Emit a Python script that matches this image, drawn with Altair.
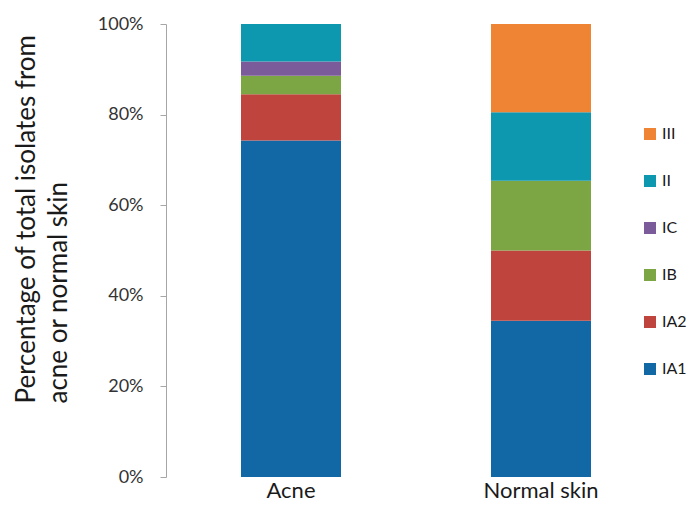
import altair as alt
import pandas as pd

categories = ["Acne", "Normal skin"]
types = ["IA1", "IA2", "IB", "IC", "II", "III"]
acne = [74.3, 10.2, 4.1, 3.1, 8.3, 0.0]
normal = [34.5, 15.5, 15.4, 0.0, 15.1, 19.5]
colors = ["#1268a5", "#c0443e", "#7ca644", "#7c5b9b", "#0e98b0", "#ee8434"]
y_ticks = [0, 0.2, 0.4, 0.6, 0.8, 1.0]

rows = []
for cat, vals in zip(categories, [acne, normal]):
    for i, (t, v) in enumerate(zip(types, vals)):
        rows.append({"group": cat, "type": t, "value": v / 100.0, "ord": i})
df = pd.DataFrame(rows)

FONT = "Lato"

chart = alt.Chart(df).mark_bar().encode(
    x=alt.X("group:N", sort=categories,
            scale=alt.Scale(paddingInner=0.6, paddingOuter=0.3),
            axis=alt.Axis(title=None, labelAngle=0, domain=False, ticks=False,
                          labelFontSize=22, labelPadding=20, labelBaseline="alphabetic",
                          labelColor="#1a1a1a", labelFont=FONT)),
    y=alt.Y("value:Q", stack=True,
            scale=alt.Scale(domain=[0, 1], nice=False),
            axis=alt.Axis(title=["Percentage of total isolates from", "acne or normal skin"],
                          format=".0%", values=y_ticks, grid=False,
                          domainColor="#a6a6a6", tickColor="#a6a6a6", tickSize=6,
                          labelFontSize=18, labelPadding=17, labelColor="#333333",
                          labelFont=FONT,
                          titleFont=FONT, titleFontSize=26, titleFontWeight="normal",
                          titleColor="#1a1a1a", titleAngle=270, titleAlign="left",
                          titleBaseline="top", titleLineHeight=32,
                          titleX=-153, titleY=379)),
    color=alt.Color("type:N",
                    scale=alt.Scale(domain=types[::-1], range=colors[::-1]),
                    legend=alt.Legend(title=None, orient="none", legendX=476, legendY=102,
                                      symbolType="square", symbolSize=144,
                                      symbolStrokeWidth=0, labelFontSize=16,
                                      labelFont=FONT, labelColor="#1a1a1a",
                                      rowPadding=31, padding=0, labelOffset=4)),
    order=alt.Order("ord:Q", sort="ascending"),
).properties(
    width=500, height=453,
    autosize=alt.AutoSizeParams(type="none"),
    padding={"left": 158, "top": 16, "right": 24, "bottom": 26},
).configure_view(stroke=None)

chart.save("out.html", embed_options={"renderer": "svg", "actions": False})
